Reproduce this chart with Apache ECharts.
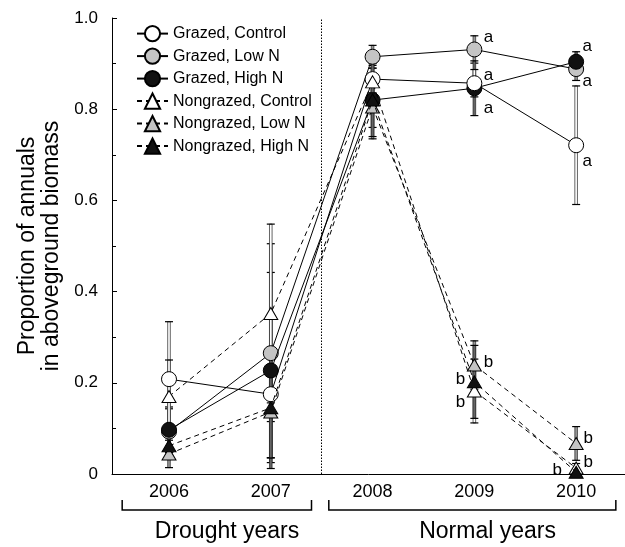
<!DOCTYPE html>
<html>
<head>
<meta charset="utf-8">
<script src="https://cdn.jsdelivr.net/npm/echarts@6/dist/echarts.min.js"></script>
<style>
  html, body { margin: 0; padding: 0; background: #fff; }
  #chart { width: 625px; height: 547px; }
</style>
</head>
<body>
<div id="chart"></div>
<script>
// Sampling years
const years = [2006, 2007, 2008, 2009, 2010];

// Proportion of annuals (means) and standard errors per treatment
const grazedControl      = [0.208, 0.175, 0.866, 0.857, 0.721];
const grazedControlSE    = [0.126, 0.060, 0.030, 0.030, 0.130];
const grazedLowN         = [0.093, 0.265, 0.915, 0.931, 0.888];
const grazedLowNSE       = [0.050, 0.240, 0.025, 0.030, 0.025];
const grazedHighN        = [0.097, 0.227, 0.820, 0.846, 0.904];
const grazedHighNSE      = [0.050, 0.215, 0.060, 0.060, 0.022];
const nongrazedControl   = [0.170, 0.352, 0.860, 0.182, 0.013];
const nongrazedControlSE = [0.080, 0.196, 0.030, 0.070, 0.010];
const nongrazedLowN      = [0.044, 0.136, 0.805, 0.239, 0.067];
const nongrazedLowNSE    = [0.030, 0.100, 0.070, 0.053, 0.037];
const nongrazedHighN     = [0.062, 0.145, 0.820, 0.202, 0.004];
const nongrazedHighNSE   = [0.030, 0.110, 0.080, 0.080, 0.005];

// Significance letters (grazed vs nongrazed) for each year
const grazedControlSig    = ['', '', '', 'a', 'a'];
const grazedLowNSig       = ['', '', '', 'a', 'a'];
const grazedHighNSig      = ['', '', '', 'a', 'a'];
const nongrazedControlSig = ['', '', '', 'b', 'b'];
const nongrazedLowNSig    = ['', '', '', 'b', 'b'];
const nongrazedHighNSig   = ['', '', '', 'b', 'b'];

// Y axis ticks
const yTicks = [0, 0.2, 0.4, 0.6, 0.8, 1.0];

// Period groupings under the year axis
const periodNames = ['Drought years', 'Normal years'];
const periodFrom  = [2005.54, 2007.57];
const periodTo    = [2007.40, 2010.39];
const periodTextAt = [2006.57, 2009.13];
// Boundary between drought and normal years
const periodBreak = 2007.5;

const FONT = '"Liberation Sans", Arial, Helvetica, sans-serif';
const GRAY = '#c4c4c4';

const treatments = [
  { name: 'Grazed, Low N',        v: grazedLowN,       se: grazedLowNSE,       sig: grazedLowNSig,       symbol: 'circle',   fill: GRAY,   bar: '#9a9a9a', dashed: false,
    off: [null, null, null, [14, -12], [11, 12]] },
  { name: 'Grazed, High N',       v: grazedHighN,      se: grazedHighNSE,      sig: grazedHighNSig,      symbol: 'circle',   fill: '#111', bar: '#666',    dashed: false,
    off: [null, null, null, [14, 20], [11, -15]] },
  { name: 'Grazed, Control',      v: grazedControl,    se: grazedControlSE,    sig: grazedControlSig,    symbol: 'circle',   fill: '#fff', bar: '#fff',    dashed: false,
    off: [null, null, null, [14, -8], [11, 16]] },
  { name: 'Nongrazed, Control',   v: nongrazedControl, se: nongrazedControlSE, sig: nongrazedControlSig, symbol: 'triangle', fill: '#fff', bar: '#fff',    dashed: true,
    off: [null, null, null, [-14, 11], [12, -6]] },
  { name: 'Nongrazed, Low N',     v: nongrazedLowN,    se: nongrazedLowNSE,    sig: nongrazedLowNSig,    symbol: 'triangle', fill: GRAY,   bar: '#9a9a9a', dashed: true,
    off: [null, null, null, [14, -3], [12, -5]] },
  { name: 'Nongrazed, High N',    v: nongrazedHighN,   se: nongrazedHighNSE,   sig: nongrazedHighNSig,   symbol: 'triangle', fill: '#111', bar: '#666',    dashed: true,
    off: [null, null, null, [-14, -3], [-19, -2]] }
];

const legendOrder = ['Grazed, Control', 'Grazed, Low N', 'Grazed, High N',
                     'Nongrazed, Control', 'Nongrazed, Low N', 'Nongrazed, High N'];

function errorBarRenderer(fill) {
  return function (params, api) {
    const x = api.value(0), lo = api.value(1), hi = api.value(2);
    const pLo = api.coord([x, lo]);
    const pHi = api.coord([x, hi]);
    const w = 2.6, cap = 8;
    return {
      type: 'group',
      children: [
        { type: 'rect', shape: { x: pLo[0] - w / 2, y: pHi[1], width: w, height: pLo[1] - pHi[1] },
          style: { fill: fill, stroke: '#222', lineWidth: 0.7 } },
        { type: 'line', shape: { x1: pHi[0] - cap / 2, y1: pHi[1], x2: pHi[0] + cap / 2, y2: pHi[1] },
          style: { stroke: '#000', lineWidth: 1.2 } },
        { type: 'line', shape: { x1: pLo[0] - cap / 2, y1: pLo[1], x2: pLo[0] + cap / 2, y2: pLo[1] },
          style: { stroke: '#000', lineWidth: 1.2 } }
      ]
    };
  };
}

const series = [];

// error bars beneath everything
treatments.forEach(t => {
  series.push({
    type: 'custom',
    name: t.name + ' SE',
    renderItem: errorBarRenderer(t.bar),
    clip: true,
    z: 1,
    silent: true,
    data: years.map((y, i) => [y, Math.max(0, t.v[i] - t.se[i]), Math.min(1, t.v[i] + t.se[i])])
  });
});

treatments.forEach((t, k) => {
  series.push({
    type: 'line',
    name: t.name,
    z: 3 + k,
    symbol: t.symbol,
    symbolSize: t.symbol === 'circle' ? 15 : [14, 12],
    itemStyle: { color: t.fill, borderColor: '#000', borderWidth: 1 },
    lineStyle: { color: '#000', width: 1, type: t.dashed ? [5, 4] : 'solid' },
    emphasis: { disabled: true },
    animation: false,
    data: years.map((y, i) => ({
      value: [y, t.v[i]],
      label: t.sig[i] ? {
        show: true, formatter: t.sig[i], position: 'inside', offset: t.off[i],
        color: '#000', fontSize: 17, fontFamily: FONT
      } : { show: false }
    })),
    markLine: k === 0 ? {
      silent: true, symbol: 'none', animation: false,
      label: { show: false },
      lineStyle: { color: '#000', type: [1.5, 1.5], width: 1 },
      data: [{ xAxis: periodBreak }]
    } : undefined
  });
});

const chart = echarts.init(document.getElementById('chart'), null, { renderer: 'canvas' });

chart.setOption({
  animation: false,
  backgroundColor: '#fff',
  textStyle: { fontFamily: FONT, color: '#000' },
  grid: { left: 112, top: 18, right: 0, bottom: 73, containLabel: false },
  legend: {
    data: legendOrder,
    orient: 'vertical',
    left: 131, top: 20,
    itemWidth: 31, itemHeight: 19, itemGap: 5.3,
    textStyle: { fontSize: 16, fontFamily: FONT, color: '#000', padding: [0, 0, 0, 0] },
    selectedMode: false
  },
  xAxis: {
    type: 'value',
    min: 2005.44, max: 2010.48,
    splitLine: { show: false },
    axisLine: { show: true, onZero: false, lineStyle: { color: '#000', width: 1 } },
    axisTick: { show: false },
    axisLabel: {
      customValues: years,
      formatter: v => String(v),
      fontSize: 18, fontFamily: FONT, color: '#000', margin: 9
    }
  },
  yAxis: {
    type: 'value',
    min: 0, max: 1, interval: 0.2,
    name: 'Proportion of annuals\nin aboveground biomass',
    nameLocation: 'middle', nameRotate: 90, nameGap: 48,
    nameTextStyle: { fontSize: 23, fontFamily: FONT, color: '#000', lineHeight: 24 },
    splitLine: { show: false },
    axisLine: { show: true, lineStyle: { color: '#000', width: 1 } },
    axisTick: { show: true, inside: true, length: 5, lineStyle: { color: '#000', width: 1 } },
    minorTick: { show: true, splitNumber: 2, length: 4, lineStyle: { color: '#000', width: 1 } },
    axisLabel: {
      customValues: yTicks,
      formatter: v => (v === 0 ? '0' : v.toFixed(1)),
      fontSize: 17, fontFamily: FONT, color: '#000', margin: 14
    }
  },
  series: series
});

// Period brackets and captions under the year labels
const bracketTop = 500, bracketBottom = 510, captionBaseline = 543;
const graphics = [];
periodNames.forEach((name, i) => {
  const x1 = chart.convertToPixel({ xAxisIndex: 0 }, periodFrom[i]);
  const x2 = chart.convertToPixel({ xAxisIndex: 0 }, periodTo[i]);
  const xt = chart.convertToPixel({ xAxisIndex: 0 }, periodTextAt[i]);
  graphics.push({
    type: 'polyline',
    shape: { points: [[x1, bracketTop], [x1, bracketBottom], [x2, bracketBottom], [x2, bracketTop]] },
    style: { stroke: '#000', lineWidth: 1.5, fill: null }
  });
  graphics.push({
    type: 'text',
    x: xt, y: captionBaseline,
    style: { text: name, fontSize: 23, fontFamily: FONT, fill: '#000', align: 'center', verticalAlign: 'bottom' }
  });
});
chart.setOption({ graphic: graphics });
</script>
</body>
</html>
